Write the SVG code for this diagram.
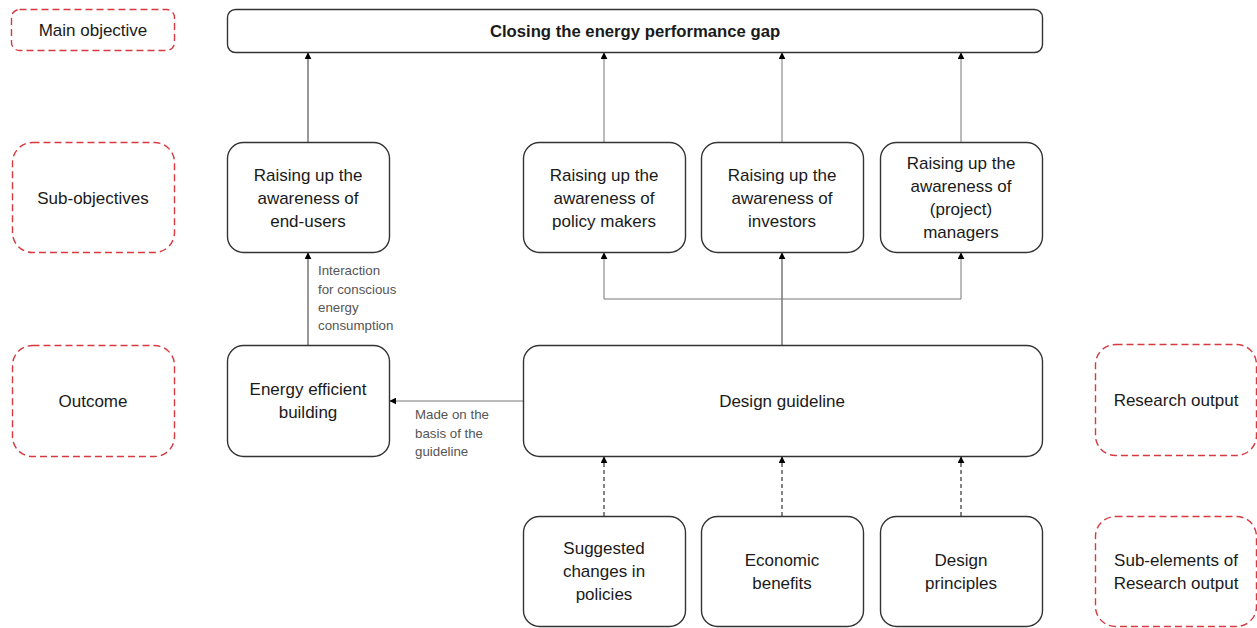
<svg xmlns="http://www.w3.org/2000/svg" width="1257" height="628" viewBox="0 0 1257 628">
  <defs>
    <marker id="arr" viewBox="0 0 10 10" refX="9" refY="5" markerWidth="7" markerHeight="7" markerUnits="userSpaceOnUse" orient="auto">
      <path d="M0,0 L10,5 L0,10 z" fill="#000"/>
    </marker>
    <style>
      .node { fill: #fff; stroke: #333; stroke-width: 1.4; }
      .tag { fill: #fff; stroke: #d63a40; stroke-width: 1.4; stroke-dasharray: 7 4; }
      .t { font-family: "Liberation Sans", Arial, sans-serif; font-size: 17px; fill: #1a1a1a; text-anchor: middle; }
      .b { font-weight: bold; font-size: 16.7px; }
      .lbl { font-family: "Liberation Sans", Arial, sans-serif; font-size: 13.3px; fill: #555; }
      .c { fill: none; stroke: #333; stroke-width: 1; }
      .cg { fill: none; stroke: #777; stroke-width: 1; }
      .d { fill: none; stroke: #333; stroke-width: 1.2; stroke-dasharray: 4 3; }
    </style>
  </defs>

  <!-- level tags (left column) -->
  <g id="tag-main">
    <rect class="tag" x="11.5" y="9.5" width="163" height="41" rx="8"/>
    <text class="t" x="93" y="36">Main objective</text>
  </g>
  <g id="tag-sub">
    <rect class="tag" x="12.5" y="142.5" width="162" height="110" rx="20"/>
    <text class="t" x="93" y="204">Sub-objectives</text>
  </g>
  <g id="tag-outcome">
    <rect class="tag" x="12.5" y="345.5" width="162" height="111" rx="20"/>
    <text class="t" x="93" y="407">Outcome</text>
  </g>
  <!-- level tags (right column) -->
  <g id="tag-research">
    <rect class="tag" x="1095.5" y="344.5" width="161" height="111" rx="20"/>
    <text class="t" x="1176" y="406">Research output</text>
  </g>
  <g id="tag-subelements">
    <rect class="tag" x="1095.5" y="516.5" width="161" height="110" rx="20"/>
    <text class="t" x="1176" y="566">Sub-elements of</text>
    <text class="t" x="1176" y="589">Research output</text>
  </g>

  <!-- connectors -->
  <g id="connectors">
    <line class="c" x1="308" y1="142" x2="308" y2="53" marker-end="url(#arr)"/>
    <line class="cg" x1="604" y1="142" x2="604" y2="53" marker-end="url(#arr)"/>
    <line class="cg" x1="782" y1="142" x2="782" y2="53" marker-end="url(#arr)"/>
    <line class="cg" x1="961" y1="142" x2="961" y2="53" marker-end="url(#arr)"/>

    <line class="c" x1="308" y1="345" x2="308" y2="253" marker-end="url(#arr)"/>
    <line class="c" x1="782" y1="345" x2="782" y2="253" marker-end="url(#arr)"/>
    <polyline class="cg" points="782,299 604,299 604,253" marker-end="url(#arr)"/>
    <polyline class="cg" points="782,299 961,299 961,253" marker-end="url(#arr)"/>

    <line class="cg" x1="523" y1="401" x2="390" y2="401" marker-end="url(#arr)"/>

    <line class="d" x1="604" y1="516" x2="604" y2="457" marker-end="url(#arr)"/>
    <line class="d" x1="782" y1="516" x2="782" y2="457" marker-end="url(#arr)"/>
    <line class="d" x1="961" y1="516" x2="961" y2="457" marker-end="url(#arr)"/>

    <text class="lbl" x="318" y="275">Interaction</text>
    <text class="lbl" x="318" y="294">for conscious</text>
    <text class="lbl" x="318" y="312">energy</text>
    <text class="lbl" x="318" y="330">consumption</text>

    <text class="lbl" x="415" y="419">Made on the</text>
    <text class="lbl" x="415" y="438">basis of the</text>
    <text class="lbl" x="415" y="456">guideline</text>
  </g>

  <!-- main objective -->
  <g id="n-main">
    <rect class="node" x="227.5" y="9.5" width="815" height="43" rx="8"/>
    <text class="t b" x="635" y="37">Closing the energy performance gap</text>
  </g>

  <!-- sub-objectives -->
  <g id="n-endusers">
    <rect class="node" x="227.5" y="142.5" width="162" height="110" rx="16"/>
    <text class="t" x="308" y="181">Raising up the</text>
    <text class="t" x="308" y="204">awareness of</text>
    <text class="t" x="308" y="227">end-users</text>
  </g>
  <g id="n-policy">
    <rect class="node" x="523.5" y="142.5" width="162" height="110" rx="16"/>
    <text class="t" x="604" y="181">Raising up the</text>
    <text class="t" x="604" y="204">awareness of</text>
    <text class="t" x="604" y="227">policy makers</text>
  </g>
  <g id="n-investors">
    <rect class="node" x="701.5" y="142.5" width="162" height="110" rx="16"/>
    <text class="t" x="782" y="181">Raising up the</text>
    <text class="t" x="782" y="204">awareness of</text>
    <text class="t" x="782" y="227">investors</text>
  </g>
  <g id="n-managers">
    <rect class="node" x="880.5" y="142.5" width="162" height="110" rx="16"/>
    <text class="t" x="961" y="169">Raising up the</text>
    <text class="t" x="961" y="192">awareness of</text>
    <text class="t" x="961" y="215">(project)</text>
    <text class="t" x="961" y="238">managers</text>
  </g>

  <!-- outcome and research output -->
  <g id="n-building">
    <rect class="node" x="227.5" y="345.5" width="162" height="111" rx="16"/>
    <text class="t" x="308" y="395">Energy efficient</text>
    <text class="t" x="308" y="418">building</text>
  </g>
  <g id="n-guideline">
    <rect class="node" x="523.5" y="345.5" width="519" height="111" rx="16"/>
    <text class="t" x="782" y="407">Design guideline</text>
  </g>

  <!-- sub-elements -->
  <g id="n-policies">
    <rect class="node" x="523.5" y="516.5" width="162" height="110" rx="16"/>
    <text class="t" x="604" y="554">Suggested</text>
    <text class="t" x="604" y="577">changes in</text>
    <text class="t" x="604" y="600">policies</text>
  </g>
  <g id="n-economic">
    <rect class="node" x="701.5" y="516.5" width="162" height="110" rx="16"/>
    <text class="t" x="782" y="566">Economic</text>
    <text class="t" x="782" y="589">benefits</text>
  </g>
  <g id="n-principles">
    <rect class="node" x="880.5" y="516.5" width="162" height="110" rx="16"/>
    <text class="t" x="961" y="566">Design</text>
    <text class="t" x="961" y="589">principles</text>
  </g>
</svg>
